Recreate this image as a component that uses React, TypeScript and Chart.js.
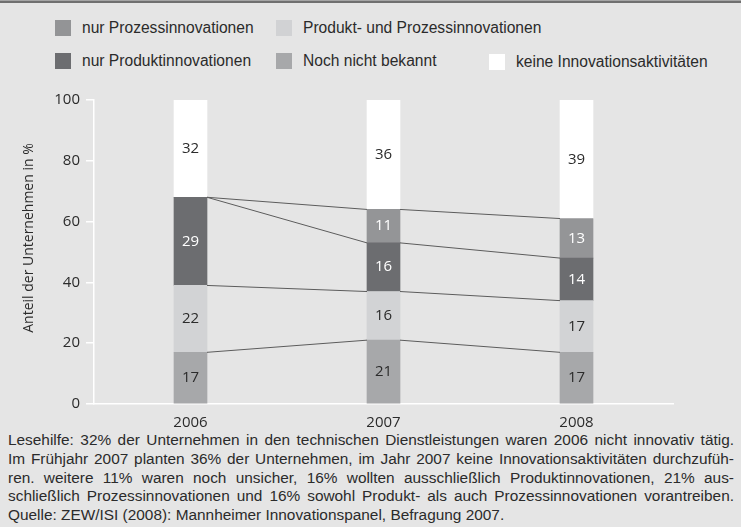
import React, { useEffect, useRef } from 'react';
import { Chart, registerables } from 'chart.js';

Chart.register(...registerables);

const years = ['2006', '2007', '2008'];
const nurProzess = [17, 21, 17];
const produktUndProzess = [22, 16, 17];
const nurProdukt = [29, 16, 14];
const nochNichtBekannt = [0, 11, 13];
const keineInnovation = [32, 36, 39];
const yTicks = [0, 20, 40, 60, 80, 100];

const seriesLabels = [
  'nur Prozessinnovationen',
  'Produkt- und Prozessinnovationen',
  'nur Produktinnovationen',
  'Noch nicht bekannt',
  'keine Innovationsaktivitäten',
];
const seriesValues = [nurProzess, produktUndProzess, nurProdukt, nochNichtBekannt, keineInnovation];
const barColors = ['#a7a8aa', '#d2d3d5', '#6c6d70', '#949597', '#ffffff'];
const valueColors = ['#2b2b2b', '#2b2b2b', '#ffffff', '#ffffff', '#2b2b2b'];
const legendColors = ['#939496', '#d1d2d4', '#6c6d70', '#a7a8aa', '#ffffff'];

const yTitle = 'Anteil der Unternehmen in %';

const captionLines = [
  'Lesehilfe: 32% der Unternehmen in den technischen Dienstleistungen waren 2006 nicht innovativ tätig.',
  'Im Frühjahr 2007 planten 36% der Unternehmen, im Jahr 2007 keine Innovationsaktivitäten durchzufüh-',
  'ren. weitere 11% waren noch unsicher, 16% wollten ausschließlich Produktinnovationen, 21% aus-',
  'schließlich Prozessinnovationen und 16% sowohl Produkt- als auch Prozessinnovationen vorantreiben.',
  'Quelle: ZEW/ISI (2008): Mannheimer Innovationspanel, Befragung 2007.',
];

const legendPlacement = [
  { left: 55, top: 20 },
  { left: 276, top: 20 },
  { left: 55, top: 53 },
  { left: 276, top: 53 },
  { left: 489, top: 54 },
];

const textFont = "'Liberation Sans', Arial, sans-serif";
const chartFont = "'Open Sans', 'Noto Sans', sans-serif";

const overlayPlugin = {
  id: 'overlay',
  afterDatasetsDraw(chart: any) {
    const ctx = chart.ctx;
    const n = chart.data.datasets.length;
    ctx.save();
    ctx.strokeStyle = '#5c5c5c';
    ctx.lineWidth = 1;
    for (let d = 0; d < n - 1; d++) {
      const els = chart.getDatasetMeta(d).data;
      for (let j = 0; j < els.length - 1; j++) {
        const a = els[j];
        const b = els[j + 1];
        ctx.beginPath();
        ctx.moveTo(a.x + a.width / 2, a.y);
        ctx.lineTo(b.x - b.width / 2, b.y);
        ctx.stroke();
      }
    }
    ctx.font = `15px ${chartFont}`;
    ctx.textAlign = 'center';
    ctx.textBaseline = 'middle';
    for (let d = 0; d < n; d++) {
      const els = chart.getDatasetMeta(d).data;
      const vals = chart.data.datasets[d].data;
      for (let j = 0; j < els.length; j++) {
        const v = vals[j];
        if (!v) continue;
        const el = els[j];
        ctx.fillStyle = valueColors[d];
        ctx.fillText(String(v), el.x, (el.y + el.base) / 2);
      }
    }
    ctx.restore();
  },
  afterDraw(chart: any) {
    const ctx = chart.ctx;
    const area = chart.chartArea;
    ctx.save();
    ctx.font = `14px ${chartFont}`;
    ctx.fillStyle = '#2b2b2b';
    ctx.textAlign = 'center';
    ctx.textBaseline = 'middle';
    ctx.translate(29, (area.top + area.bottom) / 2 - 14);
    ctx.rotate(-Math.PI / 2);
    ctx.fillText(yTitle, 0, 0);
    ctx.restore();
  },
};

function ChartCanvas() {
  const ref = useRef<HTMLCanvasElement | null>(null);
  useEffect(() => {
    if (!ref.current) return;
    const chart = new Chart(ref.current, {
      type: 'bar',
      data: {
        labels: years,
        datasets: seriesValues.map((vals, i) => ({
          label: seriesLabels[i],
          data: vals,
          backgroundColor: barColors[i],
          borderWidth: 0,
          barThickness: 33,
        })),
      },
      options: {
        animation: false,
        responsive: true,
        maintainAspectRatio: false,
        events: [],
        layout: { padding: { top: 20, right: 68, left: 0, bottom: 0 } },
        plugins: {
          legend: { display: false },
          tooltip: { enabled: false },
          title: { display: false },
        },
        scales: {
          x: {
            stacked: true,
            grid: { display: false },
            border: { color: '#ffffff', width: 1.5 },
            ticks: { color: '#2b2b2b', font: { family: chartFont, size: 15 }, padding: 2 },
            afterFit: (s: any) => {
              s.height = 26;
            },
          },
          y: {
            stacked: true,
            min: 0,
            max: 100,
            afterBuildTicks: (s: any) => {
              s.ticks = yTicks.map((v) => ({ value: v }));
            },
            ticks: { color: '#2b2b2b', font: { family: chartFont, size: 15 }, padding: 6 },
            grid: { drawOnChartArea: false, drawTicks: true, tickLength: 8, color: '#ffffff', lineWidth: 1.5 },
            border: { color: '#ffffff', width: 1.5 },
            afterFit: (s: any) => {
              s.width = 94;
            },
          },
        },
      },
      plugins: [overlayPlugin],
    } as any);
    return () => chart.destroy();
  }, []);
  return <canvas ref={ref} />;
}

export default function App() {
  return (
    <div
      style={{
        position: 'absolute',
        left: 0,
        top: 0,
        width: 741,
        height: 527,
        background: '#e5e5e5',
        overflow: 'hidden',
        fontFamily: textFont,
        color: '#2b2b2b',
      }}
    >
      <div style={{ position: 'absolute', left: 0, top: 0, width: 741, height: 1, background: '#a5a5a5' }} />
      <div style={{ position: 'absolute', left: 0, top: 1, width: 741, height: 2, background: '#707070' }} />
      {seriesLabels.map((lab, i) => (
        <div
          key={lab}
          style={{
            position: 'absolute',
            left: legendPlacement[i].left,
            top: legendPlacement[i].top,
            height: 16,
            display: 'flex',
            alignItems: 'center',
            whiteSpace: 'nowrap',
            fontSize: 15.6,
          }}
        >
          <span style={{ display: 'inline-block', width: 16, height: 16, background: legendColors[i], marginRight: 11 }} />
          <span>{lab}</span>
        </div>
      ))}
      <div style={{ position: 'absolute', left: 0, top: 80, width: 741, height: 350 }}>
        <ChartCanvas />
      </div>
      <div style={{ position: 'absolute', left: 8, top: 431, width: 726, fontSize: 15.4, lineHeight: '18.8px' }}>
        {captionLines.map((line, i) => (
          <div
            key={i}
            style={{
              textAlign: i < captionLines.length - 1 ? 'justify' : 'left',
              textAlignLast: i < captionLines.length - 1 ? 'justify' : 'left',
              whiteSpace: 'nowrap',
            } as any}
          >
            {line}
          </div>
        ))}
      </div>
    </div>
  );
}
